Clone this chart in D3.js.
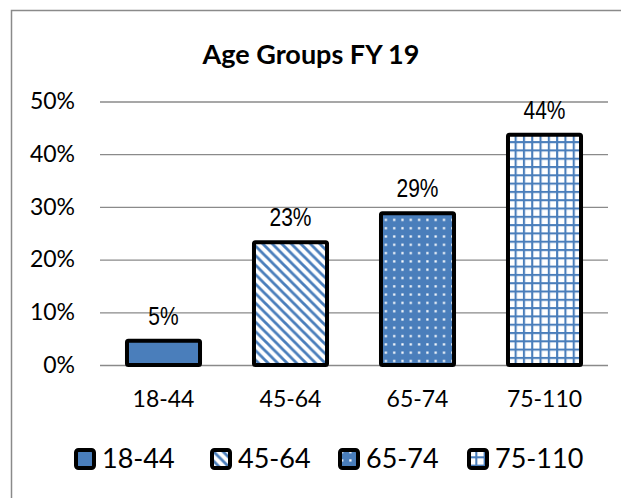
<!DOCTYPE html>
<html>
<head>
<meta charset="utf-8">
<script src="https://cdn.jsdelivr.net/npm/d3@7"></script>
<style>
  body { margin: 0; background: #fff; }
  text { font-family: Lato, "Open Sans", sans-serif; fill: #000; }
</style>
</head>
<body>
<div id="chart"></div>
<script>
// chart data
var categories = ["18-44", "45-64", "65-74", "75-110"];
var values = [0.046, 0.233, 0.288, 0.437];
var valueLabels = ["5%", "23%", "29%", "44%"];
var yTicks = [0, 0.1, 0.2, 0.3, 0.4, 0.5];
var patterns = ["solid", "diag", "dots", "grid"];

var W = 621, H = 498;
var blue = "#4a7ebb";
var margin = {top: 101.5, right: 13, bottom: 133, left: 100};

var svg = d3.select("#chart").append("svg")
    .attr("width", W).attr("height", H);

// fill patterns
var defs = svg.append("defs");
var p1 = defs.append("pattern").attr("id", "pat-diag")
  .attr("patternUnits", "userSpaceOnUse").attr("width", 9.5).attr("height", 9.5);
p1.append("rect").attr("width", 9.5).attr("height", 9.5).attr("fill", "#fff");
p1.append("path").attr("d", "M-2,-2 L11.5,11.5 M-2,7.5 L2,11.5 M7.5,-2 L11.5,2")
  .attr("stroke", blue).attr("stroke-width", 2.8);

var p2 = defs.append("pattern").attr("id", "pat-dots")
  .attr("patternUnits", "userSpaceOnUse").attr("width", 8.3).attr("height", 8.3);
p2.append("rect").attr("width", 8.3).attr("height", 8.3).attr("fill", blue);
p2.append("rect").attr("x", 3).attr("y", 3).attr("width", 2.2).attr("height", 2.2).attr("fill", "#fff");

var p3 = defs.append("pattern").attr("id", "pat-grid")
  .attr("patternUnits", "userSpaceOnUse").attr("width", 8.3).attr("height", 8.3);
p3.append("rect").attr("width", 8.3).attr("height", 8.3).attr("fill", "#fff");
p3.append("path").attr("d", "M0,1 H8.3 M1,0 V8.3")
  .attr("stroke", blue).attr("stroke-width", 2.2);

function fillFor(p) {
  return p == "solid" ? blue : "url(#pat-" + p + ")";
}

// outer frame
svg.append("rect").attr("x", 11.5).attr("y", 10.5)
  .attr("width", W + 20).attr("height", H + 20)
  .attr("fill", "none").attr("stroke", "#8a8a8a").attr("stroke-width", 1.5);

svg.append("text").attr("x", 311).attr("y", 64)
  .attr("text-anchor", "middle")
  .style("font-weight", "bold").style("font-size", "27px")
  .text("Age Groups FY 19");

var x = d3.scaleBand().domain(categories)
  .range([margin.left, W - margin.right]).paddingInner(0.425).paddingOuter(0.2125);
var y = d3.scaleLinear().domain([0, 0.5])
  .range([H - margin.bottom, margin.top]);

// gridlines + y labels
var yAxis = svg.append("g")
  .attr("transform", "translate(" + margin.left + ",0)")
  .call(d3.axisLeft(y).tickValues(yTicks).tickFormat(d3.format(".0%"))
        .tickSize(-(W - margin.left - margin.right)).tickPadding(25));
yAxis.select(".domain").remove();
yAxis.selectAll(".tick line").attr("stroke", "#8a8a8a").attr("stroke-width", 1.3);
yAxis.selectAll(".tick text").style("font-size", "23px").attr("fill", "#000");

// bars
svg.append("g").selectAll("rect")
  .data(categories)
  .enter()
  .append("rect")
  .attr("x", function(d) { return x(d); })
  .attr("y", function(d, i) { return y(values[i]); })
  .attr("width", x.bandwidth())
  .attr("height", function(d, i) { return y(0) - y(values[i]); })
  .attr("rx", 1.5)
  .attr("fill", function(d, i) { return fillFor(patterns[i]); })
  .attr("stroke", "#000").attr("stroke-width", 4);

// value labels (narrow Arial look)
svg.append("g").selectAll("text")
  .data(categories)
  .enter()
  .append("text")
  .attr("transform", function(d, i) {
    return "translate(" + (x(d) + x.bandwidth() / 2) + "," + (y(values[i]) - 16) + ") scale(0.84,1)";
  })
  .attr("text-anchor", "middle")
  .style("font-family", "'Liberation Sans', Arial, sans-serif")
  .style("font-size", "25px")
  .text(function(d, i) { return valueLabels[i]; });

// x labels
var xAxis = svg.append("g")
  .attr("transform", "translate(0," + y(0) + ")")
  .call(d3.axisBottom(x).tickSize(0));
xAxis.select(".domain").remove();
xAxis.selectAll(".tick text")
  .attr("y", 42).attr("dy", null)
  .style("font-size", "23px").attr("fill", "#000");

// legend
var legendX = [74, 210, 338, 467];
var lg = svg.append("g").selectAll("g")
  .data(categories)
  .enter()
  .append("g")
  .attr("transform", function(d, i) { return "translate(" + legendX[i] + ",448)"; });
lg.append("rect")
  .attr("x", 2).attr("y", 2).attr("width", 18).attr("height", 18).attr("rx", 2.5)
  .attr("fill", function(d, i) { return fillFor(patterns[i]); })
  .attr("stroke", "#000").attr("stroke-width", 4);
lg.append("text")
  .attr("x", 28).attr("y", 20)
  .style("font-size", "27px")
  .text(function(d) { return d; });
</script>
</body>
</html>
